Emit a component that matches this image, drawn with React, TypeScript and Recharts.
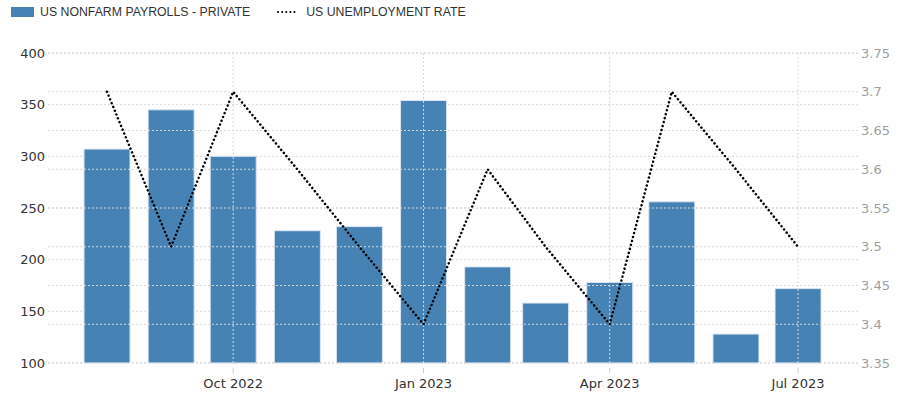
import React from 'react';
import { ComposedChart, Bar, Line, XAxis, YAxis, CartesianGrid, ReferenceLine } from 'recharts';

const months = ['2022-08-01', '2022-09-01', '2022-10-01', '2022-11-01', '2022-12-01', '2023-01-01', '2023-02-01', '2023-03-01', '2023-04-01', '2023-05-01', '2023-06-01', '2023-07-01'];
const payrolls = [307, 345, 300, 228, 232, 354, 193, 158, 178, 256, 128, 172];
const unemployment = [3.7, 3.5, 3.7, 3.6, 3.5, 3.4, 3.6, 3.5, 3.4, 3.7, 3.6, 3.5];
const tickDates = ['2022-10-01', '2023-01-01', '2023-04-01', '2023-07-01'];
const tickLabels = ['Oct 2022', 'Jan 2023', 'Apr 2023', 'Jul 2023'];
const leftTicks = [100, 150, 200, 250, 300, 350, 400];
const rightTicks = [3.35, 3.4, 3.45, 3.5, 3.55, 3.6, 3.65, 3.7, 3.75];

const DAY = 86400000;
const origin = Date.UTC(2022, 7, 1);
const toDay = (s: string) => Math.round((Date.parse(s + 'T00:00:00Z') - origin) / DAY);

const data = months.map((m, i) => ({ t: toDay(m), payrolls: payrolls[i], rate: unemployment[i] }));
const tickDays = tickDates.map(toDay);

const FONT = '"DejaVu Sans", Verdana, sans-serif';
const GRID = '#d9d9d9';

const XTick = (props: any) => {
  const { x, y, payload } = props;
  const idx = tickDays.indexOf(payload.value);
  if (idx < 0) return null;
  return (
    <g>
      <line x1={x} x2={x} y1={y - 3} y2={y + 2} stroke="#ccc" />
      <text x={x} y={y + 17} textAnchor="middle" fontFamily={FONT} fontSize={13} fill="#333">
        {tickLabels[idx]}
      </text>
    </g>
  );
};

export default function App() {
  return (
    <div style={{ position: 'absolute', left: 0, top: 0, width: 900, height: 395, background: '#fff' }}>
      <div style={{ position: 'absolute', left: 11, top: 5, display: 'flex', alignItems: 'center', fontFamily: '"Liberation Sans", Arial, sans-serif', fontSize: 12.3, color: '#333', whiteSpace: 'nowrap' }}>
        <span style={{ display: 'inline-block', width: 23, height: 10, background: '#4682b4', marginRight: 6 }} />
        <span>US NONFARM PAYROLLS - PRIVATE</span>
        <svg width={19} height={10} style={{ marginLeft: 27, marginRight: 10 }}>
          <line x1={1} y1={5} x2={18} y2={5} stroke="#000" strokeWidth={2} strokeDasharray="0.1 4" strokeLinecap="round" />
        </svg>
        <span>US UNEMPLOYMENT RATE</span>
      </div>
      <ComposedChart width={900} height={395} data={data} margin={{ top: 53, right: 0, bottom: 0, left: 0 }}>
        <CartesianGrid yAxisId="left" vertical={false} stroke={GRID} strokeDasharray="2 2" />
        {rightTicks.map((t) => (
          <ReferenceLine key={'r' + t} yAxisId="right" y={t} stroke={GRID} strokeDasharray="2 2" />
        ))}
        {tickDays.map((d) => (
          <ReferenceLine key={'x' + d} yAxisId="left" x={d} stroke={GRID} strokeDasharray="2 2" />
        ))}
        <XAxis
          dataKey="t"
          type="number"
          scale="linear"
          domain={[-28.5, 363]}
          ticks={tickDays}
          interval={0}
          height={32}
          axisLine={false}
          tickLine={false}
          tick={<XTick />}
          allowDataOverflow
        />
        <YAxis
          yAxisId="left"
          orientation="left"
          width={48}
          domain={[100, 400]}
          ticks={leftTicks}
          axisLine={false}
          tickLine={false}
          tickSize={3}
          tickMargin={0}
          tick={{ fontFamily: FONT, fontSize: 13, fill: '#333' }}
        />
        <YAxis
          yAxisId="right"
          orientation="right"
          width={42}
          domain={[3.35, 3.75]}
          ticks={rightTicks}
          axisLine={false}
          tickLine={false}
          tickSize={3}
          tickMargin={0}
          tickFormatter={(v: number) => String(parseFloat(v.toFixed(2)))}
          tick={{ fontFamily: FONT, fontSize: 13, fill: '#a0a0a0' }}
        />
        <Bar yAxisId="left" dataKey="payrolls" barSize={46} fill="#4682b4" stroke="#dbe6f1" strokeWidth={1} isAnimationActive={false} />
        <Line
          yAxisId="right"
          dataKey="rate"
          type="linear"
          stroke="#000"
          strokeWidth={2.5}
          strokeDasharray="0.1 4"
          strokeLinecap="round"
          dot={false}
          activeDot={false}
          isAnimationActive={false}
        />
      </ComposedChart>
    </div>
  );
}
